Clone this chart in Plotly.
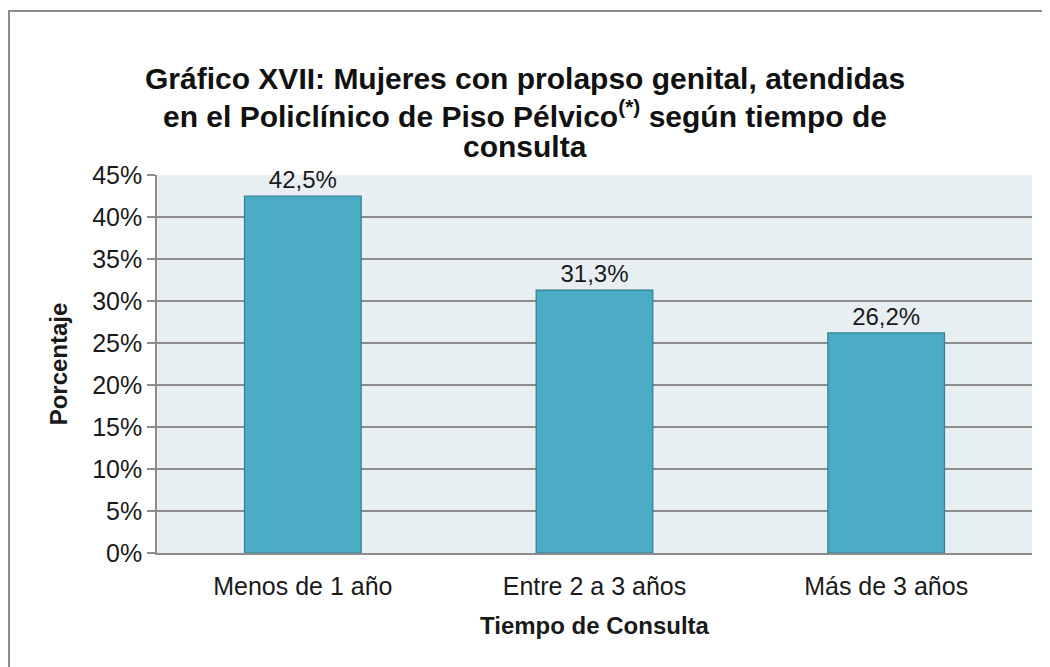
import plotly.graph_objects as go

categories = ["Menos de 1 año", "Entre 2 a 3 años", "Más de 3 años"]
values = [42.5, 31.3, 26.2]
labels = ["42,5%", "31,3%", "26,2%"]
tick_vals = [0, 5, 10, 15, 20, 25, 30, 35, 40, 45]
tick_text = ["0%", "5%", "10%", "15%", "20%", "25%", "30%", "35%", "40%", "45%"]
title_lines = [
    "<b>Gráfico XVII: Mujeres con prolapso genital, atendidas</b>",
    "<b>en el Policlínico de Piso Pélvico<sup>(*)</sup> según tiempo de</b>",
    "<b>consulta</b>",
]

FONT = "Arial, Liberation Sans, sans-serif"
OFF = 8  # page body margin
W, H = 1050 - OFF, 667 - OFF
L, R, T, B = 157 - OFF, 18, 175 - OFF, 114
pw, ph = W - L - R, H - T - B


def px(x):
    return (x - OFF - L) / pw


def py(y):
    return (H - B - (y - OFF)) / ph


fig = go.Figure(go.Bar(
    x=categories, y=values, text=labels, textposition="outside",
    textfont=dict(size=24, color="#1a1a1a", family=FONT),
    constraintext="none",
    marker=dict(color="#4BACC6", line=dict(color="#357D91", width=1.2)),
    width=0.4, cliponaxis=False,
))

annotations = []
title_y = [78, 114, 146]
title_sizes = [30, 30, 30]
for line, yy, fs in zip(title_lines, title_y, title_sizes):
    annotations.append(dict(
        text=line, xref="paper", yref="paper", x=px(525), y=py(yy),
        xanchor="center", yanchor="middle", showarrow=False,
        font=dict(size=fs, family=FONT, color="#111111"),
    ))

fig.update_layout(
    width=W, height=H,
    margin=dict(l=L, r=R, t=T, b=B),
    paper_bgcolor="white", plot_bgcolor="#E8EFF3",
    font=dict(family=FONT, color="#1a1a1a"),
    showlegend=False,
    annotations=annotations,
    xaxis=dict(
        title=dict(text="<b>Tiempo de Consulta</b>", font=dict(size=24), standoff=18),
        tickfont=dict(size=25), showline=True, linecolor="#8c8c8c", linewidth=1.5,
        ticks="", showgrid=False, ticklabelstandoff=10,
    ),
    yaxis=dict(
        title=dict(text="<b>Porcentaje</b>", font=dict(size=24), standoff=18),
        range=[0, 45], tickvals=tick_vals, ticktext=tick_text,
        tickfont=dict(size=25), showline=True, linecolor="#8c8c8c", linewidth=1.5,
        ticks="outside", ticklen=8, tickcolor="#8c8c8c", tickwidth=1.5,
        gridcolor="#8c8c8c", gridwidth=1.5, zeroline=False,
    ),
    shapes=[dict(
        type="rect", xref="paper", yref="paper",
        x0=px(9), x1=px(1070), y0=py(690), y1=py(11),
        line=dict(color="#8c8c8c", width=2), fillcolor="rgba(0,0,0,0)", layer="below",
    )],
)

fig.write_html("out.html")
